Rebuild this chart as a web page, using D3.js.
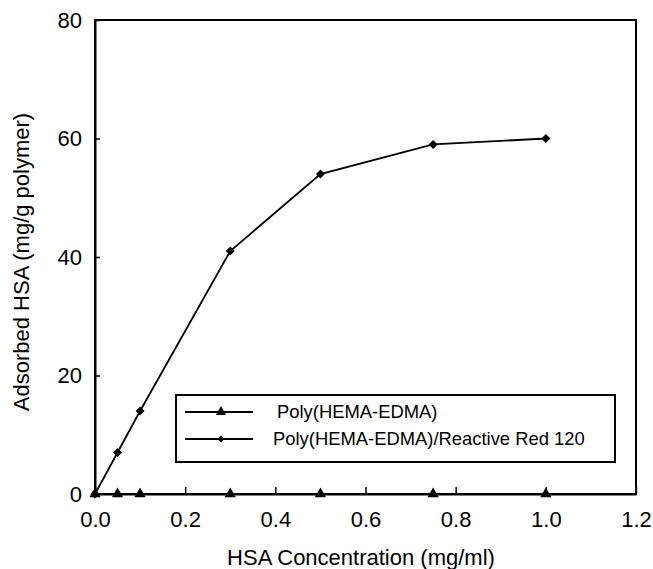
<!DOCTYPE html>
<html>
<head>
<meta charset="utf-8">
<script src="https://cdn.jsdelivr.net/npm/d3@7"></script>
<style>
  html, body { margin: 0; padding: 0; background: #fff; }
  svg { display: block; font-family: "Liberation Sans", Arial, sans-serif; }
</style>
</head>
<body>
<svg id="chart" width="653" height="569"></svg>
<script>
// HSA concentration (mg/ml)
const concentration = [0, 0.05, 0.1, 0.3, 0.5, 0.75, 1.0];
// Adsorbed HSA (mg/g polymer) per sorbent
const plainPolymer = [0, 0, 0, 0, 0, 0, 0];
const dyeAttached = [0, 7, 14, 41, 54, 59, 60];

const seriesNames = ["Poly(HEMA-EDMA)", "Poly(HEMA-EDMA)/Reactive Red 120"];
const xTicks = [0, 0.2, 0.4, 0.6, 0.8, 1.0, 1.2];
const yTicks = [0, 20, 40, 60, 80];

const svg = d3.select("#chart");
const plotLeft = 95, plotRight = 636, plotTop = 20, plotBottom = 494;

const x = d3.scaleLinear().domain([0, 1.2]).range([plotLeft, plotRight]);
const y = d3.scaleLinear().domain([0, 80]).range([plotBottom, plotTop]);

// frame
svg.append("rect")
  .attr("x", plotLeft).attr("y", plotTop)
  .attr("width", plotRight - plotLeft).attr("height", plotBottom - plotTop)
  .attr("fill", "none").attr("stroke", "#000").attr("stroke-width", 2);

// y axis, ticks pointing inward
const yAxis = svg.append("g")
  .attr("transform", `translate(${plotLeft},0)`)
  .call(d3.axisLeft(y).tickValues(yTicks).tickSizeInner(-5).tickSizeOuter(0).tickPadding(13).tickFormat(d3.format("d")));
yAxis.select(".domain").attr("stroke-width", 2);
yAxis.selectAll(".tick line").attr("stroke-width", 1.5);
yAxis.selectAll(".tick text").attr("font-size", 22).attr("fill", "#000")
  .attr("font-family", "Liberation Sans, Arial, sans-serif");

// x axis, ticks pointing inward
const xAxis = svg.append("g")
  .attr("transform", `translate(0,${plotBottom})`)
  .call(d3.axisBottom(x).tickValues(xTicks).tickSizeInner(-7).tickSizeOuter(0).tickPadding(17).tickFormat(d3.format(".1f")));
xAxis.select(".domain").attr("stroke-width", 2);
xAxis.selectAll(".tick line").attr("stroke-width", 1.5);
xAxis.selectAll(".tick text").attr("font-size", 22).attr("fill", "#000")
  .attr("font-family", "Liberation Sans, Arial, sans-serif");

// axis titles
svg.append("text")
  .attr("x", 361).attr("y", 565)
  .attr("text-anchor", "middle").attr("font-size", 22)
  .text("HSA Concentration (mg/ml)");
svg.append("text")
  .attr("transform", "translate(29,262) rotate(-90)")
  .attr("text-anchor", "middle").attr("font-size", 22)
  .text("Adsorbed HSA (mg/g polymer)");

const line = d3.line().x(d => x(d[0])).y(d => y(d[1]));
const triangle = d3.symbol().type(d3.symbolTriangle).size(55);
// diamond = square turned by 45 degrees
const diamond = d3.symbol().type(d3.symbolSquare).size(40);

function drawSeries(values, sym, rot) {
  const pts = concentration.map((c, i) => [c, values[i]]);
  svg.append("path").datum(pts)
    .attr("d", line).attr("fill", "none")
    .attr("stroke", "#000").attr("stroke-width", 1.8);
  svg.append("g").selectAll("path").data(pts).join("path")
    .attr("transform", d => `translate(${x(d[0])},${y(d[1])}) rotate(${rot})`)
    .attr("d", sym).attr("fill", "#000");
}
drawSeries(dyeAttached, diamond, 45);
drawSeries(plainPolymer, triangle, 0);

// legend
const lg = svg.append("g");
lg.append("rect")
  .attr("x", 176).attr("y", 395).attr("width", 439).attr("height", 67)
  .attr("fill", "#fff").attr("stroke", "#000").attr("stroke-width", 2);
const legendRows = [
  { name: seriesNames[0], sym: d3.symbol().type(d3.symbolTriangle).size(45), rot: 0, y: 412, tx: 277 },
  { name: seriesNames[1], sym: d3.symbol().type(d3.symbolSquare).size(24), rot: 45, y: 439, tx: 273 }
];
legendRows.forEach(r => {
  lg.append("line")
    .attr("x1", 185).attr("x2", 253).attr("y1", r.y).attr("y2", r.y)
    .attr("stroke", "#000").attr("stroke-width", 1.8);
  lg.append("path")
    .attr("transform", `translate(221,${r.y}) rotate(${r.rot})`)
    .attr("d", r.sym).attr("fill", "#000");
  lg.append("text")
    .attr("x", r.tx).attr("y", r.y + 6)
    .attr("font-size", 18.4).text(r.name);
});
</script>
</body>
</html>
